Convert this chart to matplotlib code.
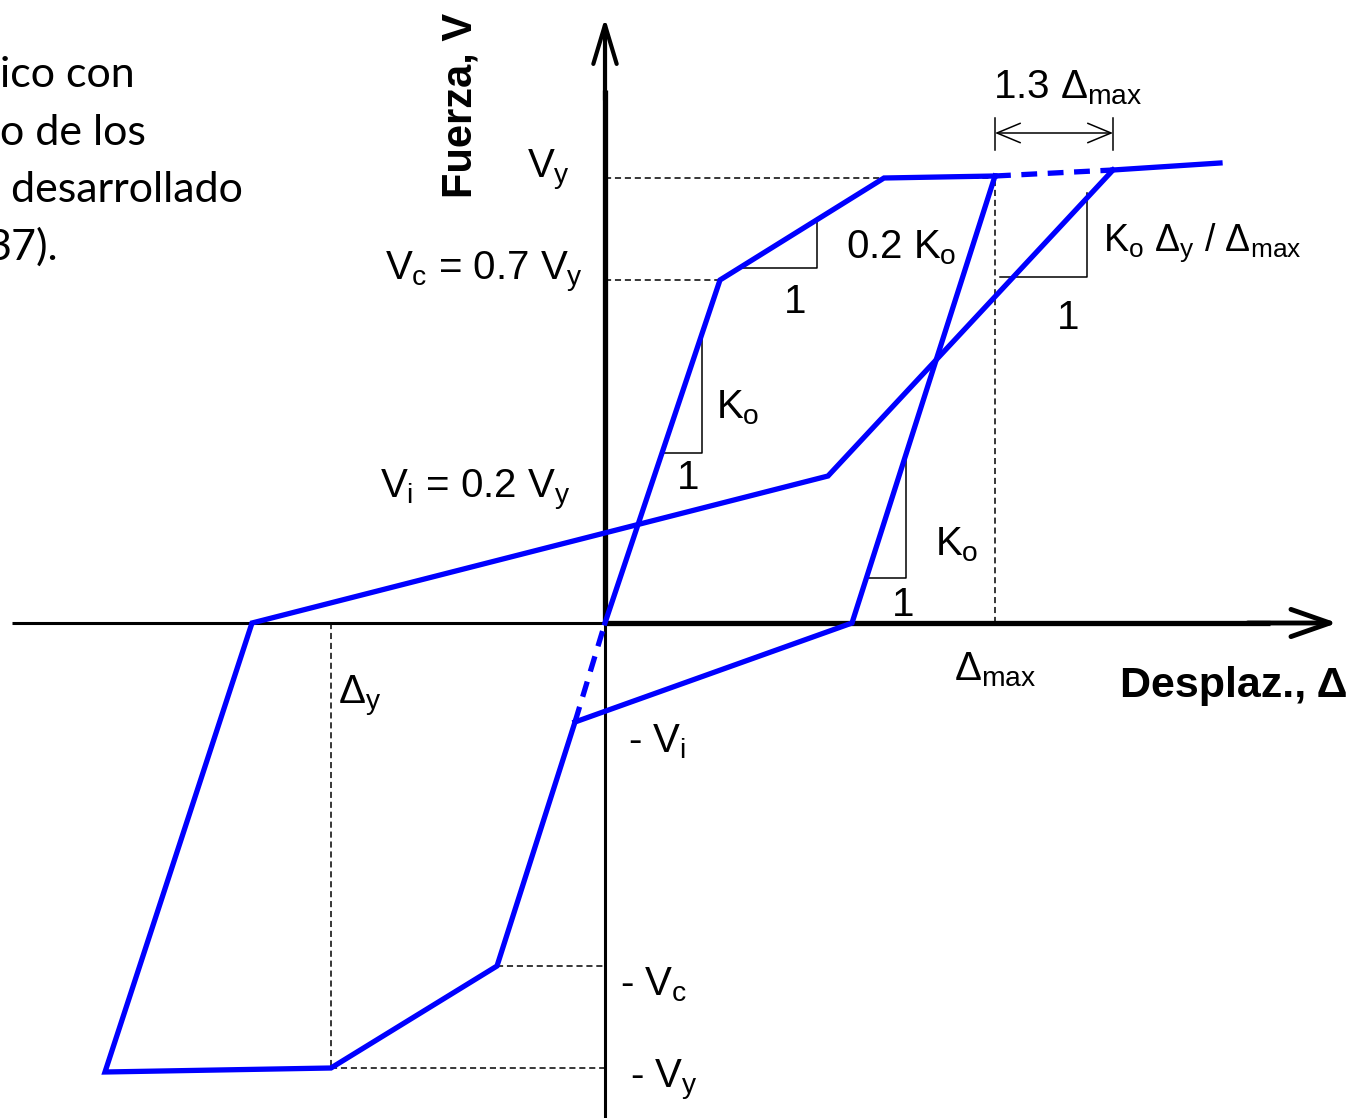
import matplotlib.pyplot as plt

plt.rcParams['font.family'] = ['Liberation Sans', 'DejaVu Sans']
plt.rcParams['mathtext.fontset'] = 'custom'
plt.rcParams['mathtext.rm'] = 'Liberation Sans'
plt.rcParams['mathtext.it'] = 'Liberation Sans'
plt.rcParams['mathtext.bf'] = 'Liberation Sans:bold'

BLUE = '#0000ff'

# hysteresis branches (displacement, force)
load_x = [0, 115, 279, 390]
load_v = [0, 343, 445, 447]
reload_dash_x = [390, 508]
reload_dash_v = [447, 453]
tail_x = [508, 615]
tail_v = [453, 460]
unload_x = [390, 247, -30]
unload_v = [447, 0, -99]
orig_dash_x = [-30, 0]
orig_dash_v = [-99, 0]
cycle_x = [-30, -108, -274, -500, -353, 223, 508]
cycle_v = [-99, -343, -445, -449, 0, 147, 453]

# key levels
Vy, Vc = 445, 343
d_max, d_y = 390, -274
nVc_x, nVy_x = -108, -274

# slope triangles: (x of vertical leg, y bottom, y top, x of horizontal start)
triangles = [
    (212, 355, 405, 133),
    (97, 170, 285, 58),
    (301, 45, 168, 261),
    (482, 346, 430, 395),
]


def main():
    fig = plt.figure(figsize=(13.7, 11.18), dpi=100)
    ax = fig.add_axes([0, 0, 1, 1])
    ax.set_xlim(-605, 765)
    ax.set_ylim(-495, 623)
    ax.axis('off')

    # axes of the diagram
    ax.plot([-593, 700], [0, 0], color='black', lw=2.2, solid_capstyle='butt')
    ax.plot([0, 665], [0, 0], color='black', lw=3.8, solid_capstyle='butt')
    ax.annotate('', xy=(735, 0), xytext=(640, 0),
                arrowprops=dict(arrowstyle='->,head_length=1.0,head_width=0.35',
                                lw=3.5, color='black', mutation_scale=28))
    ax.plot([0, 0], [-495, 580], color='black', lw=2.2, solid_capstyle='butt')
    ax.plot([0, 0], [0, 533], color='black', lw=3.8, solid_capstyle='butt')
    ax.annotate('', xy=(0, 608), xytext=(0, 520),
                arrowprops=dict(arrowstyle='->,head_length=1.0,head_width=0.3',
                                lw=3.0, color='black', mutation_scale=28))

    # reference dashed lines
    dk = dict(color='black', lw=1.1, ls=(0, (4, 2.5)))
    ax.plot([0, d_max], [Vy, Vy], **dk)
    ax.plot([0, load_x[1]], [Vc, Vc], **dk)
    ax.plot([d_max, d_max], [0, Vy], **dk)
    ax.plot([nVc_x, 0], [-Vc, -Vc], **dk)
    ax.plot([nVy_x, 0], [-Vy, -Vy], **dk)
    ax.plot([d_y, d_y], [0, -Vy], **dk)

    # slope triangles
    for xv, yb, yt, xh in triangles:
        ax.plot([xh, xv, xv], [yb, yb, yt], color='black', lw=1.1)

    # curves
    lw = 3.8
    ax.plot(load_x, load_v, color=BLUE, lw=lw, solid_joinstyle='miter')
    ax.plot(reload_dash_x, reload_dash_v, color=BLUE, lw=lw, ls=(0, (3, 2)))
    ax.plot(tail_x, tail_v, color=BLUE, lw=lw)
    ax.plot(unload_x, unload_v, color=BLUE, lw=lw, solid_joinstyle='miter')
    ax.plot(orig_dash_x, orig_dash_v, color=BLUE, lw=lw, ls=(0, (3, 2)))
    ax.plot(cycle_x, cycle_v, color=BLUE, lw=lw, solid_joinstyle='miter')

    # 1.3 dmax dimension
    ax.plot([390, 390], [473, 505], color='black', lw=1.1)
    ax.plot([508, 508], [473, 505], color='black', lw=1.1)
    ax.annotate('', xy=(390, 490), xytext=(508, 490),
                arrowprops=dict(arrowstyle='<->,head_length=1.2,head_width=0.5',
                                lw=1.1, color='black', mutation_scale=14,
                                shrinkA=0, shrinkB=0))

    fs = 29
    ax.text(-145, 518, 'Fuerza, V', rotation=90, fontsize=30, fontweight='bold',
            ha='center', va='center')
    ax.text(515, -63, 'Desplaz., Δ', fontsize=31, fontweight='bold',
            ha='left', va='center')
    ax.text(-57, 453, r'$V_y$', fontsize=fs, ha='center', va='center')
    ax.text(-22, 351, r'$V_c$ = 0.7 $V_y$', fontsize=fs, ha='right', va='center')
    ax.text(-35, 133, r'$V_i$ = 0.2 $V_y$', fontsize=fs, ha='right', va='center')
    ax.text(241, 375, r'0.2 $K_o$', fontsize=fs, ha='left', va='center')
    ax.text(190, 321, '1', fontsize=fs, ha='center', va='center')
    ax.text(111, 215, r'$K_o$', fontsize=fs, ha='left', va='center')
    ax.text(83, 145, '1', fontsize=fs, ha='center', va='center')
    ax.text(330, 78, r'$K_o$', fontsize=fs, ha='left', va='center')
    ax.text(298, 18, '1', fontsize=fs, ha='center', va='center')
    ax.text(498, 380, r'$K_o$ $Δ_y$ / $Δ_{\mathrm{max}}$', fontsize=27,
            ha='left', va='center')
    ax.text(463, 305, '1', fontsize=fs, ha='center', va='center')
    ax.text(388, 535, r'1.3 $Δ_{\mathrm{max}}$', fontsize=fs, ha='left', va='center')
    ax.text(390, -47, r'$Δ_{\mathrm{max}}$', fontsize=fs, ha='center', va='center')
    ax.text(-267, -72, r'$Δ_y$', fontsize=fs, ha='left', va='center')
    ax.text(23, -119, r'- $V_i$', fontsize=fs, ha='left', va='center')
    ax.text(15, -362, r'- $V_c$', fontsize=fs, ha='left', va='center')
    ax.text(25, -457, r'- $V_y$', fontsize=fs, ha='left', va='center')

    # cropped paragraph on the left
    para = [('ico con', -605, 548), ('o de los', -605, 490),
            (' desarrollado', -605, 433), ('37).', -619, 376)]
    for s, x, y in para:
        ax.text(x, y, s, fontsize=31, family='Lato', ha='left', va='center')

    fig.savefig('out.png', dpi=100)


if __name__ == '__main__':
    main()
